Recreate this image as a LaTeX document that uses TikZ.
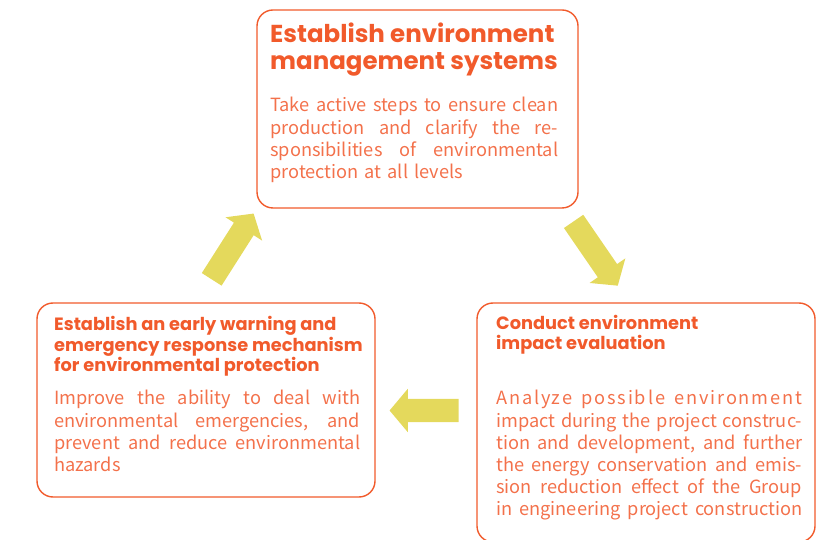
\documentclass[tikz,border=0pt]{standalone}
\usepackage{fontspec}
\setmainfont{Noto Sans CJK SC}
\newfontfamily\headfont{Poppins}
\usetikzlibrary{shapes.arrows}

\definecolor{boxorange}{HTML}{F15A2B}
\definecolor{textorange}{HTML}{F3714B}
\definecolor{arrowyellow}{HTML}{E4D95C}

% stretch one line of a blurb over the whole text width
\newcommand{\fullline}[1]{{\spaceskip=0.27em plus 1em minus 0.05em\makebox[\linewidth][s]{#1}}}
% same, with wider letters
\newcommand{\spreadline}[1]{{\addfontfeature{LetterSpace=10}\fullline{#1}}}

\tikzset{
  box/.style={draw=boxorange, line width=1.4bp, rounded corners=16bp, inner sep=0pt},
  bighead/.style={anchor=base west, inner sep=0pt, align=left, text=boxorange,
    font=\headfont\bfseries\fontsize{24.5bp}{27bp}\selectfont},
  smallhead/.style={anchor=base west, inner sep=0pt, align=left, text=boxorange,
    font=\headfont\bfseries\fontsize{17.8bp}{20.5bp}\selectfont},
  blurb/.style={anchor=base west, inner sep=0pt, align=left, text=textorange,
    font=\fontsize{18.2bp}{22.2bp}\selectfont},
  bigarrow/.style={single arrow, fill=arrowyellow, draw=none, inner xsep=0pt,
    inner ysep=11.5bp, single arrow head extend=10bp, single arrow tip angle=100}
}

\begin{document}
\begin{tikzpicture}[x=10bp,y=10bp]
    \useasboundingbox (0,0) rectangle (82.9,54);

    % the three boxes
    \node[box, minimum width=321bp, minimum height=198bp] (manage) at (41.75,43.1) {};
    \node[box, minimum width=338bp, minimum height=194bp] (warning) at (20.6,14.0) {};
    \node[box, minimum width=338bp, minimum height=239bp] (impact) at (64.6,11.75) {};

    % top box
    \node[bighead] (manageT) at (27.0,47.0) {Establish environment\\management systems};
    \node[blurb, text width=288bp] (manageB) at (27.0,42.8) {%
      \fullline{Take active steps to ensure clean}\\
      \fullline{production and clarify the re-}\\
      \fullline{sponsibilities of environmental}\\
      protection at all levels};

    % left box
    \node[smallhead] (warningT) at (5.4,16.8) {Establish an early warning and\\emergency response mechanism\\for environmental protection};
    \node[blurb, text width=306bp] (warningB) at (5.4,13.5) {%
      \fullline{Improve the ability to deal with}\\
      \fullline{environmental emergencies, and}\\
      \fullline{prevent and reduce environmental}\\
      hazards};

    % right box
    \node[smallhead] (impactT) at (49.6,19.0) {Conduct environment\\impact evaluation};
    \node[blurb, text width=306bp] (impactB) at (49.6,13.5) {%
      \spreadline{Analyze possible environment}\\
      \fullline{impact during the project construc-}\\
      \fullline{tion and development, and further}\\
      \fullline{the energy conservation and emis-}\\
      \fullline{sion reduction effect of the Group}\\
      \fullline{in engineering project construction}};

    % arrows between the boxes
    \node[bigarrow, minimum height=78bp, rotate=57.5] (toManage) at (23.0,28.94) {};
    \node[bigarrow, minimum height=78bp, rotate=-55.5] (toImpact) at (59.29,29.05) {};
    \node[bigarrow, minimum height=69bp, rotate=180] (toWarning) at (42.9,12.95) {};

\end{tikzpicture}
\end{document}
